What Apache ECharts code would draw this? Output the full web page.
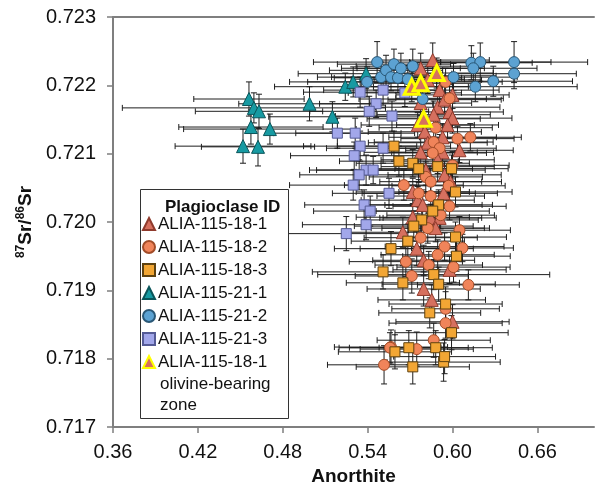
<!DOCTYPE html>
<html>
<head>
<meta charset="UTF-8">
<title>Plagioclase 87Sr/86Sr vs Anorthite</title>
<script src="https://cdn.jsdelivr.net/npm/echarts@6/dist/echarts.min.js"></script>
<style>
  html, body { margin: 0; padding: 0; background: #fff; }
  #main { width: 595px; height: 496px; }
</style>
</head>
<body>
<div id="main"></div>
<script>
// [anorthite, 87Sr/86Sr, ±anorthite, ±87Sr/86Sr]
const alia18_1 = [
  [0.586, 0.72237, 0.040, 0.00025], [0.5775, 0.72225, 0.045, 0.00022], [0.5825, 0.72208, 0.038, 0.00020],
  [0.5909, 0.72193, 0.042, 0.00022], [0.600, 0.72186, 0.040, 0.00020], [0.5775, 0.72174, 0.036, 0.00018],
  [0.5895, 0.72168, 0.044, 0.00022], [0.5944, 0.72179, 0.040, 0.00020], [0.5979, 0.72161, 0.038, 0.00020],
  [0.600, 0.72152, 0.042, 0.00022], [0.5867, 0.72157, 0.040, 0.00020], [0.5754, 0.72142, 0.040, 0.00018],
  [0.5965, 0.72142, 0.036, 0.00020], [0.5804, 0.72132, 0.040, 0.00022], [0.593, 0.72124, 0.038, 0.00020],
  [0.5825, 0.72116, 0.042, 0.00020], [0.5775, 0.72102, 0.040, 0.00022], [0.593, 0.72102, 0.036, 0.00020],
  [0.6049, 0.72105, 0.038, 0.00018], [0.5895, 0.72091, 0.040, 0.00020], [0.5811, 0.72076, 0.042, 0.00022],
  [0.5944, 0.72069, 0.040, 0.00020], [0.5986, 0.72059, 0.036, 0.00018], [0.5719, 0.72044, 0.040, 0.00020],
  [0.5937, 0.72042, 0.038, 0.00022], [0.5754, 0.72032, 0.040, 0.00020], [0.5789, 0.72025, 0.042, 0.00022],
  [0.5719, 0.72007, 0.040, 0.00020], [0.5846, 0.72006, 0.036, 0.00020], [0.5909, 0.72006, 0.040, 0.00022],
  [0.5881, 0.71991, 0.038, 0.00020], [0.5649, 0.71985, 0.040, 0.00022], [0.5747, 0.71961, 0.040, 0.00025],
  [0.5796, 0.71944, 0.036, 0.00022], [0.5979, 0.71930, 0.040, 0.00020], [0.5796, 0.71902, 0.040, 0.00025],
  [0.5853, 0.71886, 0.038, 0.00022], [0.600, 0.71854, 0.040, 0.00025]
];
const alia18_2 = [
  [0.5951, 0.72205, 0.040, 0.00020], [0.5979, 0.72181, 0.038, 0.00020], [0.5881, 0.72138, 0.040, 0.00020],
  [0.6035, 0.72122, 0.040, 0.00018], [0.6126, 0.72124, 0.036, 0.00020], [0.5867, 0.72117, 0.042, 0.00022],
  [0.5909, 0.72108, 0.040, 0.00020], [0.586, 0.72101, 0.038, 0.00020], [0.600, 0.72083, 0.040, 0.00020],
  [0.5811, 0.72066, 0.040, 0.00022], [0.5846, 0.72059, 0.036, 0.00020], [0.5656, 0.72054, 0.042, 0.00022],
  [0.5761, 0.72042, 0.040, 0.00020], [0.5846, 0.72038, 0.038, 0.00020], [0.5972, 0.72053, 0.040, 0.00022],
  [0.5979, 0.72023, 0.040, 0.00020], [0.5916, 0.72010, 0.038, 0.00020], [0.5825, 0.71991, 0.040, 0.00022],
  [0.6049, 0.71988, 0.036, 0.00020], [0.5775, 0.71977, 0.040, 0.00022], [0.5944, 0.71964, 0.042, 0.00020],
  [0.607, 0.71962, 0.036, 0.00020], [0.5895, 0.71952, 0.040, 0.00022], [0.567, 0.71942, 0.040, 0.00022],
  [0.5832, 0.71937, 0.038, 0.00020], [0.6007, 0.71934, 0.040, 0.00022], [0.5712, 0.71921, 0.040, 0.00025],
  [0.6112, 0.71908, 0.036, 0.00022], [0.5951, 0.71873, 0.038, 0.00025], [0.5951, 0.71852, 0.040, 0.00022],
  [0.5867, 0.71827, 0.040, 0.00025], [0.5565, 0.71817, 0.040, 0.00025], [0.5558, 0.71816, 0.036, 0.00022],
  [0.5747, 0.71814, 0.040, 0.00025], [0.5516, 0.71791, 0.040, 0.00028]
];
const alia18_3 = [
  [0.5586, 0.72111, 0.040, 0.00022], [0.5621, 0.72089, 0.042, 0.00022], [0.5719, 0.72086, 0.040, 0.00020],
  [0.5761, 0.72078, 0.038, 0.00020], [0.5895, 0.72081, 0.040, 0.00022], [0.5993, 0.72078, 0.040, 0.00020],
  [0.6021, 0.72044, 0.040, 0.00022], [0.5902, 0.72025, 0.038, 0.00022], [0.586, 0.72016, 0.040, 0.00020],
  [0.5782, 0.72003, 0.040, 0.00022], [0.5726, 0.71994, 0.042, 0.00022], [0.5684, 0.71972, 0.040, 0.00025],
  [0.5565, 0.71961, 0.040, 0.00025], [0.6021, 0.71978, 0.036, 0.00022], [0.6028, 0.71950, 0.038, 0.00022],
  [0.5509, 0.71927, 0.050, 0.00025], [0.5649, 0.71911, 0.040, 0.00025], [0.5867, 0.71923, 0.082, 0.00022],
  [0.5902, 0.71909, 0.040, 0.00025], [0.5951, 0.71880, 0.040, 0.00025], [0.5839, 0.71867, 0.036, 0.00022],
  [0.5993, 0.71838, 0.040, 0.00025], [0.5593, 0.71810, 0.040, 0.00025], [0.5691, 0.71816, 0.042, 0.00025],
  [0.5881, 0.71816, 0.040, 0.00025], [0.5937, 0.71795, 0.040, 0.00028], [0.5719, 0.71788, 0.040, 0.00025],
  [0.5944, 0.71803, 0.036, 0.00025]
];
const alia21_1 = [
  [0.4561, 0.72180, 0.039, 0.00025], [0.4596, 0.72167, 0.093, 0.00022], [0.4632, 0.72162, 0.045, 0.00025],
  [0.4575, 0.72139, 0.051, 0.00025], [0.4709, 0.72136, 0.061, 0.00022], [0.4519, 0.72111, 0.048, 0.00025],
  [0.4625, 0.72110, 0.040, 0.00028], [0.4989, 0.72173, 0.050, 0.00025], [0.5151, 0.72154, 0.045, 0.00022],
  [0.5242, 0.72198, 0.050, 0.00020], [0.5298, 0.72205, 0.045, 0.00022], [0.5389, 0.72217, 0.048, 0.00022]
];
const alia21_2 = [
  [0.5467, 0.72234, 0.045, 0.00030], [0.5396, 0.72205, 0.042, 0.00022], [0.5495, 0.72212, 0.045, 0.00022],
  [0.553, 0.72222, 0.040, 0.00022], [0.5565, 0.72212, 0.042, 0.00020], [0.5614, 0.72211, 0.045, 0.00022],
  [0.5586, 0.72231, 0.040, 0.00022], [0.5635, 0.72225, 0.042, 0.00022], [0.5719, 0.72228, 0.040, 0.00025],
  [0.5684, 0.72209, 0.040, 0.00020], [0.6133, 0.72233, 0.043, 0.00025], [0.6196, 0.72234, 0.050, 0.00028],
  [0.6147, 0.72225, 0.045, 0.00022], [0.6435, 0.72234, 0.052, 0.00030], [0.6435, 0.72217, 0.044, 0.00022],
  [0.6288, 0.72206, 0.056, 0.00022], [0.6161, 0.72198, 0.072, 0.00022], [0.6007, 0.72212, 0.045, 0.00020],
  [0.5888, 0.72214, 0.042, 0.00022], [0.5789, 0.72180, 0.045, 0.00022]
];
const alia21_3 = [
  [0.5347, 0.72190, 0.040, 0.00022], [0.5509, 0.72193, 0.042, 0.00022], [0.546, 0.72173, 0.040, 0.00020],
  [0.5411, 0.72162, 0.042, 0.00022], [0.5572, 0.72155, 0.040, 0.00022], [0.5663, 0.72189, 0.040, 0.00020],
  [0.5186, 0.72130, 0.045, 0.00022], [0.5312, 0.72130, 0.042, 0.00022], [0.5347, 0.72111, 0.040, 0.00022],
  [0.5509, 0.72108, 0.040, 0.00022], [0.5305, 0.72097, 0.045, 0.00020], [0.5389, 0.72076, 0.040, 0.00022],
  [0.5439, 0.72076, 0.040, 0.00020], [0.534, 0.72069, 0.042, 0.00022], [0.5298, 0.72054, 0.045, 0.00022],
  [0.5551, 0.72042, 0.040, 0.00022], [0.5375, 0.72025, 0.042, 0.00022], [0.5418, 0.72016, 0.040, 0.00022],
  [0.5389, 0.71996, 0.045, 0.00022], [0.5249, 0.71983, 0.042, 0.00025]
];
const olivineZone = [
  [0.5712, 0.72198, 0.040, 0.00022], [0.5775, 0.72203, 0.042, 0.00022],
  [0.5888, 0.72218, 0.040, 0.00022], [0.5796, 0.72151, 0.040, 0.00022]
];

const xTicks = { min: 0.36, max: 0.70, step: 0.06 };
const yTicks = { min: 0.717, max: 0.723, step: 0.001 };

const font = 'Liberation Sans, Arial, Helvetica, sans-serif';
const axisGray = '#7f7f7f';

function errorBars(params, api) {
  const x = api.value(0), y = api.value(1), dx = api.value(2), dy = api.value(3);
  const l = api.coord([x - dx, y]), r = api.coord([x + dx, y]);
  const t = api.coord([x, y + dy]), b = api.coord([x, y - dy]);
  const c = 3;
  const st = { stroke: '#1e1e1e', lineWidth: 1 };
  const ln = (x1, y1, x2, y2) => ({ type: 'line', shape: { x1, y1, x2, y2 }, style: st });
  return {
    type: 'group',
    children: [
      ln(l[0], l[1], r[0], r[1]),
      ln(l[0], l[1] - c, l[0], l[1] + c),
      ln(r[0], r[1] - c, r[0], r[1] + c),
      ln(t[0], t[1], b[0], b[1]),
      ln(t[0] - c, t[1], t[0] + c, t[1]),
      ln(b[0] - c, b[1], b[0] + c, b[1])
    ]
  };
}

const groups = [
  { name: 'ALIA-115-18-1', data: alia18_1, symbol: 'triangle', size: 13, color: '#d6705f', border: '#8f3a2c', bw: 1 },
  { name: 'ALIA-115-18-2', data: alia18_2, symbol: 'circle', size: 11, color: '#f0845a', border: '#a24c28', bw: 1 },
  { name: 'ALIA-115-18-3', data: alia18_3, symbol: 'rect', size: 10, color: '#f2a634', border: '#5e4210', bw: 1 },
  { name: 'ALIA-115-21-1', data: alia21_1, symbol: 'triangle', size: 13, color: '#179aa2', border: '#0a555a', bw: 1 },
  { name: 'ALIA-115-21-2', data: alia21_2, symbol: 'circle', size: 11, color: '#5ca2d2', border: '#2a5877', bw: 1 },
  { name: 'ALIA-115-21-3', data: alia21_3, symbol: 'rect', size: 10, color: '#a2a7ea', border: '#555b96', bw: 1 },
  { name: 'olivine', data: olivineZone, symbol: 'triangle', size: 15, color: '#d6705f', border: '#ffff00', bw: 3 }
];

const series = [];
groups.forEach(g => {
  series.push({
    type: 'custom',
    name: g.name + ' error',
    data: g.data,
    encode: { x: 0, y: 1 },
    renderItem: errorBars,
    z: 1,
    silent: true
  });
});
groups.forEach(g => {
  series.push({
    type: 'scatter',
    name: g.name,
    data: g.data,
    encode: { x: 0, y: 1 },
    symbol: g.symbol,
    symbolSize: g.size,
    itemStyle: { color: g.color, borderColor: g.border, borderWidth: g.bw, opacity: 1 },
    z: 3
  });
});

const chart = echarts.init(document.getElementById('main'));
chart.setOption({
  animation: false,
  backgroundColor: '#fff',
  grid: { left: 113, right: 1, top: 17, bottom: 69, containLabel: false, outerBoundsMode: 'none' },
  title: {
    text: 'Plagioclase ID',
    left: 160, top: 194,
    textStyle: { fontFamily: font, fontSize: 17, fontWeight: 'bold', color: '#111' },
    z: 10
  },
  legend: {
    orient: 'vertical',
    left: 142, top: 214,
    padding: 0,
    itemGap: 3,
    itemWidth: 12, itemHeight: 12,
    data: groups.map(g => g.name),
    formatter: n => n === 'olivine' ? 'ALIA-115-18-1' : n,
    textStyle: { fontFamily: font, fontSize: 17, color: '#111', lineHeight: 20, padding: [0, 0, 0, -2] },
    selectedMode: false,
    z: 10
  },
  graphic: [
    { type: 'rect', left: 140, top: 189, z: 5,
      shape: { width: 148, height: 229 },
      style: { fill: '#fff', stroke: '#333', lineWidth: 1 } },
    { type: 'text', left: 160, top: 374, z: 10,
      style: { text: 'olivine-bearing\nzone', font: '17px ' + font, fill: '#111', lineHeight: 21 } }
  ],
  xAxis: [{
    type: 'value',
    min: xTicks.min, max: xTicks.max, interval: xTicks.step,
    name: 'Anorthite',
    nameLocation: 'middle',
    nameGap: 40,
    nameTextStyle: { fontFamily: font, fontSize: 19, fontWeight: 'bold', color: '#111' },
    axisLine: { show: true, onZero: false, lineStyle: { color: axisGray, width: 2 } },
    axisTick: { show: true, length: 6, lineStyle: { color: axisGray, width: 1.5 } },
    axisLabel: { fontFamily: font, fontSize: 20, color: '#111', margin: 15, showMaxLabel: false,
      formatter: v => v.toFixed(2) },
    splitLine: { show: false }
  }, {
    type: 'value', position: 'top',
    min: xTicks.min, max: xTicks.max,
    axisLine: { show: true, lineStyle: { color: axisGray, width: 2 } },
    axisTick: { show: false }, axisLabel: { show: false }, splitLine: { show: false }
  }],
  yAxis: {
    type: 'value',
    min: yTicks.min, max: yTicks.max, interval: yTicks.step,
    name: '{s|87}{b|Sr/}{s|86}{b|Sr}',
    nameLocation: 'middle',
    nameGap: 68,
    nameTextStyle: {
      rich: {
        b: { fontFamily: font, fontSize: 19, fontWeight: 'bold', color: '#111', lineHeight: 22 },
        s: { fontFamily: font, fontSize: 12, fontWeight: 'bold', color: '#111', verticalAlign: 'top', lineHeight: 22 }
      }
    },
    axisLine: { show: true, onZero: false, lineStyle: { color: axisGray, width: 2 } },
    axisTick: { show: true, length: 6, lineStyle: { color: axisGray, width: 1.5 } },
    axisLabel: { fontFamily: font, fontSize: 20, color: '#111', margin: 17,
      formatter: v => v.toFixed(3) },
    splitLine: { show: false }
  },
  series: series
});
</script>
</body>
</html>
